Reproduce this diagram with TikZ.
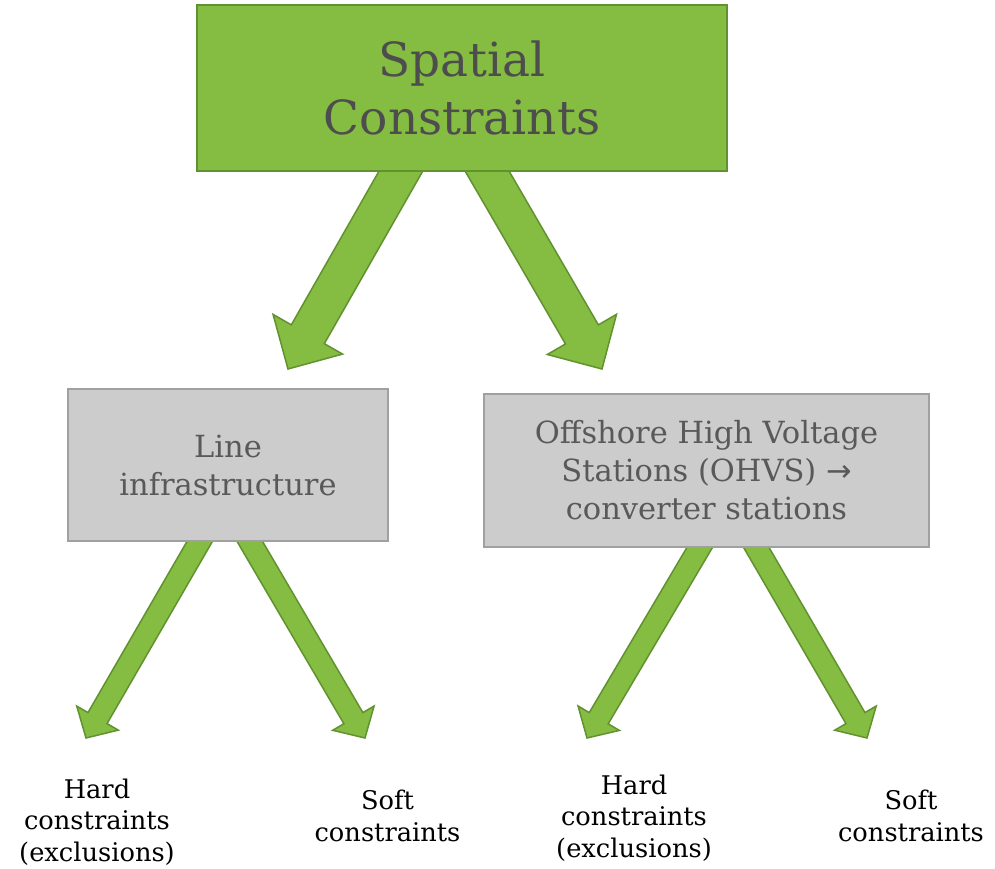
\documentclass[tikz,border=0pt]{standalone}
\usepackage{fontspec}
\setmainfont{DejaVu Serif}
\newfontfamily\symfont{DejaVu Sans}
\usetikzlibrary{calc,backgrounds}

\definecolor{leafgreen}{RGB}{132,189,65}
\definecolor{leafdark}{RGB}{98,145,48}
\definecolor{boxgray}{RGB}{204,204,204}
\definecolor{boxline}{RGB}{160,160,160}
\definecolor{inkgray}{RGB}{77,77,77}
\definecolor{midgray}{RGB}{89,89,89}

\tikzset{
  topbox/.style={draw=leafdark, fill=leafgreen, line width=1.6pt, text=inkgray, align=center, inner sep=0pt, font=\fontsize{47}{58}\selectfont},
  subbox/.style={draw=boxline, fill=boxgray, line width=1.6pt, text=midgray, align=center, inner sep=0pt, font=\fontsize{30.5}{38}\selectfont},
  leaf/.style={align=center, inner sep=0pt, font=\fontsize{25.7}{31.5}\selectfont},
  fatarrow/.style={draw=leafdark, fill=leafgreen, line width=1.5pt, line join=miter}
}

% block arrow: start, tip, half shaft, half head, head length
\newcommand{\blockarrow}[5]{%
  \path ($(#1)!-30pt!(#2)$) coordinate (fa-s) ($(#2)!#5!(#1)$) coordinate (fa-c);
  \draw[fatarrow] ($(fa-s)!#3!90:(#2)$) -- ($(fa-c)!#3!-90:(fa-s)$) -- ($(fa-c)!#4!-90:(fa-s)$) -- (#2)
    -- ($(fa-c)!#4!90:(fa-s)$) -- ($(fa-c)!#3!90:(fa-s)$) -- ($(fa-s)!#3!-90:(#2)$) -- cycle;}

\begin{document}
\begin{tikzpicture}[x=1pt, y=-1pt]
    \useasboundingbox (0,0) rectangle (995,869);

    % Boxes
    \node[topbox, minimum width=530, minimum height=166] (spatial) at (462,88) {Spatial\\Constraints};
    \node[subbox, minimum width=320, minimum height=152] (lineinf) at (228,465) {Line\\infrastructure};
    \node[subbox, minimum width=445, minimum height=153] (ohvs) at (706.5,470.5) {Offshore High Voltage\\Stations (OHVS) {\symfont →}\\converter stations};

    % Leaves
    \node[leaf] (hardL) at (97,822) {Hard\\constraints\\(exclusions)};
    \node[leaf] (softL) at (387.5,816) {Soft\\constraints};
    \node[leaf] (hardR) at (634,818) {Hard\\constraints\\(exclusions)};
    \node[leaf] (softR) at (911,816) {Soft\\constraints};

    % Arrow ends
    \coordinate (fromA) at ($(spatial.south)+(-61.5,0)$);
    \coordinate (fromB) at ($(spatial.south)+(25.5,0)$);
    \coordinate (fromC) at ($(lineinf.south)+(-28.5,0)$);
    \coordinate (fromD) at ($(lineinf.south)+(22,0)$);
    \coordinate (fromE) at ($(ohvs.south)+(-7,0)$);
    \coordinate (fromF) at ($(ohvs.south)+(50,0)$);
    \coordinate (tipA) at (288,369);
    \coordinate (tipB) at (602,369);
    \coordinate (tipC) at (86,738);
    \coordinate (tipD) at (365,738);
    \coordinate (tipE) at (587,738);
    \coordinate (tipF) at (867,738);

    % Arrows behind the boxes
    \begin{scope}[on background layer]
        \fill[white] (0,0) rectangle (995,869);
        \blockarrow{fromA}{tipA}{19pt}{40pt}{40pt}
        \blockarrow{fromB}{tipB}{19pt}{40pt}{40pt}
        \blockarrow{fromC}{tipC}{11pt}{24pt}{23pt}
        \blockarrow{fromD}{tipD}{11pt}{24pt}{23pt}
        \blockarrow{fromE}{tipE}{11pt}{24pt}{23pt}
        \blockarrow{fromF}{tipF}{11pt}{24pt}{23pt}
    \end{scope}
\end{tikzpicture}
\end{document}
